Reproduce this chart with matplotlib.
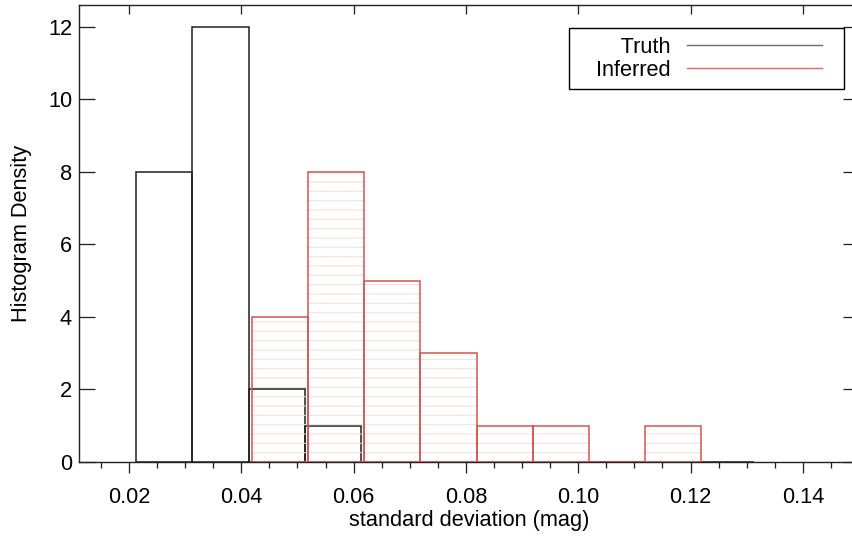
import matplotlib
matplotlib.use("Agg")
import matplotlib.pyplot as plt
from matplotlib.lines import Line2D
from matplotlib.legend_handler import HandlerLine2D
from matplotlib.ticker import MultipleLocator, FormatStrFormatter

# histogram bins (left edges, width 0.01)
bin_width = 0.01
truth_left = [0.0213, 0.0313, 0.0413, 0.0513, 0.0613, 0.0713, 0.0813, 0.0913, 0.1013, 0.1113, 0.1213]
truth_density = [8, 12, 2, 1, 0, 0, 0, 0, 0, 0, 0]
inferred_left = [0.0419, 0.0519, 0.0619, 0.0719, 0.0819, 0.0919, 0.1019, 0.1119]
inferred_density = [4, 8, 5, 3, 1, 1, 0, 1]

x_ticks = [0.02, 0.04, 0.06, 0.08, 0.10, 0.12, 0.14]
y_ticks = [0, 2, 4, 6, 8, 10, 12]

DPI = 112
PX = 72 / DPI  # one pixel in points
FS = 14

plt.rcParams['font.family'] = ['Liberation Sans', 'DejaVu Sans']
plt.rcParams['font.size'] = FS
plt.rcParams['hatch.linewidth'] = 1.0 * PX

fig = plt.figure(figsize=(852 / DPI, 536 / DPI), dpi=DPI)
ax = fig.add_axes([79 / 852, 74 / 536, 780 / 852, 457 / 536])

black = '#222222'
red = '#d9534f'

# truth histogram
ax.bar(truth_left, truth_density, width=bin_width, align='edge',
       facecolor='none', edgecolor=black, linewidth=1.0, zorder=2)
# inferred histogram: pale hatching then outline
ax.bar(inferred_left, inferred_density, width=bin_width, align='edge',
       facecolor='none', edgecolor='#fadcdc', hatch='--', linewidth=0, zorder=3)
ax.bar(inferred_left, inferred_density, width=bin_width, align='edge',
       facecolor='none', edgecolor=red, linewidth=1.0, zorder=4)

ax.set_xlim(0.0111, 0.1500)
ax.set_ylim(0, 12.6)

ax.set_xticks(x_ticks)
ax.xaxis.set_major_formatter(FormatStrFormatter('%.2f'))
ax.xaxis.set_minor_locator(MultipleLocator(0.005))
ax.set_yticks(y_ticks)

ax.tick_params(axis='x', which='major', direction='out', length=11 * PX,
               width=1.3 * PX, color=black, pad=14 * PX, top=False)
ax.tick_params(axis='x', which='minor', direction='out', length=5.5 * PX,
               width=1.3 * PX, color=black, top=False)
ax.tick_params(axis='y', which='major', direction='in', length=16 * PX,
               width=1.3 * PX, color=black, pad=7 * PX, right=False)

top = ax.secondary_xaxis('top')
top.set_xticks(x_ticks)
top.tick_params(direction='in', length=9 * PX, width=1.3 * PX, color=black,
                labeltop=False)
top.spines['top'].set_visible(False)
right = ax.secondary_yaxis('right')
right.set_yticks(y_ticks)
right.tick_params(direction='in', length=16 * PX, width=1.3 * PX, color=black,
                  labelright=False)

for s in ax.spines.values():
    s.set_color(black)
    s.set_linewidth(1.4 * PX)

ax.set_xlabel("standard deviation (mag)", labelpad=1)
ax.set_ylabel("Histogram Density", labelpad=10)

em = FS / PX  # font size in pixels
handles = [Line2D([], [], color='#6e6e6e', linewidth=1.4 * PX),
           Line2D([], [], color='#e06a6a', linewidth=1.4 * PX)]
leg = ax.legend(handles, ["   Truth", "   Inferred"], loc='upper right',
                bbox_to_anchor=(0.981, 0.950), borderaxespad=0,
                markerfirst=False, fancybox=False, frameon=True,
                edgecolor='black', framealpha=1, borderpad=0.4,
                labelspacing=0.1, handlelength=(135 + 26) / em,
                handletextpad=4 / em,
                handler_map={Line2D: HandlerLine2D(numpoints=2, marker_pad=13 / em)})
leg.get_frame().set_linewidth(1.4 * PX)

fig.savefig("out.png", dpi=DPI)
